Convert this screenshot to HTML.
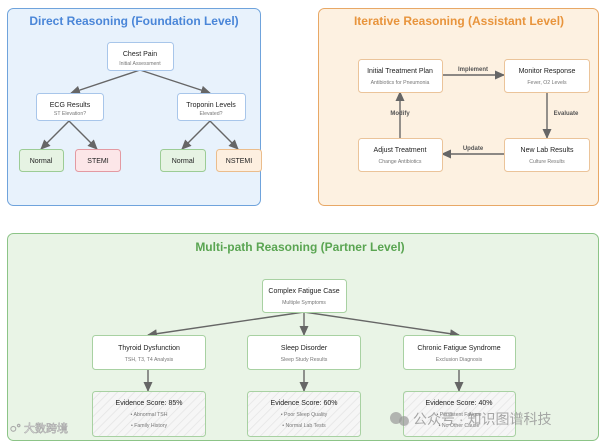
<!DOCTYPE html>
<html><head><meta charset="utf-8"><style>
html,body{margin:0;padding:0;background:#fff;width:600px;height:442px;overflow:hidden}
text{font-family:"Liberation Sans","Noto Sans CJK SC",sans-serif}
</style></head><body>
<svg width="600" height="442" viewBox="0 0 600 442" xmlns="http://www.w3.org/2000/svg">
<defs>
<marker id="a" markerWidth="10" markerHeight="10" refX="9" refY="4.5" orient="auto" markerUnits="userSpaceOnUse"><path d="M0,0 L10,4.5 L0,9 z" fill="#666"/></marker>
<pattern id="h" width="6" height="6" patternUnits="userSpaceOnUse" patternTransform="rotate(45)"><rect width="6" height="6" fill="#f6f6f6"/><line x1="0" y1="0" x2="0" y2="6" stroke="#e4e4e4" stroke-width="1.5"/></pattern>
</defs>
<rect x="7.5" y="8.5" width="253" height="197" rx="6" fill="#e8f2fc" stroke="#6fa3dc"/>
<rect x="318.5" y="8.5" width="280" height="197" rx="6" fill="#fdf1e1" stroke="#e8a866"/>
<rect x="7.5" y="233.5" width="591" height="207" rx="6" fill="#e9f4e6" stroke="#8cc487"/>
<text x="134" y="25" font-size="12" font-weight="bold" fill="#4a86d8" text-anchor="middle">Direct Reasoning (Foundation Level)</text>
<text x="459" y="25" font-size="12" font-weight="bold" fill="#e8943c" text-anchor="middle">Iterative Reasoning (Assistant Level)</text>
<text x="300" y="251" font-size="12" font-weight="bold" fill="#5aa552" text-anchor="middle">Multi-path Reasoning (Partner Level)</text>

<g stroke="#666" stroke-width="1.4" fill="none" marker-end="url(#a)">
<line x1="140" y1="70" x2="71" y2="93"/>
<line x1="140" y1="70" x2="210" y2="93"/>
<line x1="69" y1="121" x2="41" y2="149"/>
<line x1="69" y1="121" x2="97" y2="149"/>
<line x1="210" y1="121" x2="182" y2="149"/>
<line x1="210" y1="121" x2="238" y2="149"/>
<line x1="442" y1="75" x2="504" y2="75"/>
<line x1="547" y1="92" x2="547" y2="138"/>
<line x1="504" y1="154" x2="442" y2="154"/>
<line x1="400" y1="138" x2="400" y2="92"/>
<line x1="304" y1="312" x2="148" y2="335"/>
<line x1="304" y1="312" x2="304" y2="335"/>
<line x1="304" y1="312" x2="459" y2="335"/>
<line x1="148" y1="369" x2="148" y2="391"/>
<line x1="304" y1="369" x2="304" y2="391"/>
<line x1="459" y1="369" x2="459" y2="391"/>
</g>
<g font-size="6" font-weight="bold" fill="#555" text-anchor="middle">
<text x="473" y="71">Implement</text>
<text x="566" y="115">Evaluate</text>
<text x="473" y="150">Update</text>
<text x="400" y="115">Modify</text>
</g>

<g stroke="#a8c6ea" fill="#fff">
<rect x="107.5" y="42.5" width="66" height="28" rx="3"/>
<rect x="36.5" y="93.5" width="67" height="27" rx="3"/>
<rect x="177.5" y="93.5" width="68" height="27" rx="3"/>
</g>
<rect x="19.5" y="149.5" width="44" height="22" rx="3" fill="#e6f3e3" stroke="#9ccc95"/>
<rect x="75.5" y="149.5" width="45" height="22" rx="3" fill="#fce6e8" stroke="#e39aa2"/>
<rect x="160.5" y="149.5" width="45" height="22" rx="3" fill="#e6f3e3" stroke="#9ccc95"/>
<rect x="216.5" y="149.5" width="45" height="22" rx="3" fill="#fdefe0" stroke="#ebbd8c"/>
<g font-size="7" fill="#222" text-anchor="middle">
<text x="140" y="56">Chest Pain</text>
<text x="70" y="107">ECG Results</text>
<text x="211" y="107">Troponin Levels</text>
<text x="41" y="163">Normal</text>
<text x="98" y="163">STEMI</text>
<text x="183" y="163">Normal</text>
<text x="239" y="163">NSTEMI</text>
</g>
<g font-size="5.2" fill="#777" text-anchor="middle">
<text x="140" y="65">Initial Assessment</text>
<text x="70" y="115">ST Elevation?</text>
<text x="211" y="115">Elevated?</text>
</g>

<g stroke="#ebc49a" fill="#fff">
<rect x="358.5" y="59.5" width="84" height="33" rx="3"/>
<rect x="504.5" y="59.5" width="85" height="33" rx="3"/>
<rect x="358.5" y="138.5" width="84" height="33" rx="3"/>
<rect x="504.5" y="138.5" width="85" height="33" rx="3"/>
</g>
<g font-size="7" fill="#222" text-anchor="middle">
<text x="400" y="73">Initial Treatment Plan</text>
<text x="547" y="73">Monitor Response</text>
<text x="400" y="152">Adjust Treatment</text>
<text x="547" y="152">New Lab Results</text>
</g>
<g font-size="5.2" fill="#777" text-anchor="middle">
<text x="400" y="84">Antibiotics for Pneumonia</text>
<text x="547" y="84">Fever, O2 Levels</text>
<text x="400" y="163">Change Antibiotics</text>
<text x="547" y="163">Culture Results</text>
</g>

<g stroke="#a8d1a2" fill="#fff">
<rect x="262.5" y="279.5" width="84" height="33" rx="3"/>
<rect x="92.5" y="335.5" width="113" height="34" rx="3"/>
<rect x="247.5" y="335.5" width="113" height="34" rx="3"/>
<rect x="403.5" y="335.5" width="112" height="34" rx="3"/>
</g>
<g stroke="#a8d1a2" fill="url(#h)">
<rect x="92.5" y="391.5" width="113" height="45" rx="3"/>
<rect x="247.5" y="391.5" width="113" height="45" rx="3"/>
<rect x="403.5" y="391.5" width="112" height="45" rx="3"/>
</g>
<g font-size="7" fill="#222" text-anchor="middle">
<text x="304" y="293">Complex Fatigue Case</text>
<text x="149" y="350">Thyroid Dysfunction</text>
<text x="304" y="350">Sleep Disorder</text>
<text x="459" y="350">Chronic Fatigue Syndrome</text>
<text x="149" y="405">Evidence Score: 85%</text>
<text x="304" y="405">Evidence Score: 60%</text>
<text x="459" y="405">Evidence Score: 40%</text>
</g>
<g font-size="5.2" fill="#777" text-anchor="middle">
<text x="304" y="304">Multiple Symptoms</text>
<text x="149" y="361">TSH, T3, T4 Analysis</text>
<text x="304" y="361">Sleep Study Results</text>
<text x="459" y="361">Exclusion Diagnosis</text>
<text x="149" y="416">• Abnormal TSH</text>
<text x="149" y="427">• Family History</text>
<text x="304" y="416">• Poor Sleep Quality</text>
<text x="304" y="427">• Normal Lab Tests</text>
<text x="459" y="416">• Persistent Fatigue</text>
<text x="459" y="427">• No Other Cause</text>
</g>
<text x="10" y="432" font-size="11" fill="#fff" stroke="#aaa" stroke-width="0.6">◌° 大数跨境</text>
<circle cx="396" cy="418" r="6" fill="#999" opacity="0.7"/><circle cx="404" cy="421" r="5" fill="#999" opacity="0.7"/>
<text x="413" y="424" font-size="14" fill="#999" opacity="0.85">公众号 · 知识图谱科技</text>
</svg>
</body></html>
